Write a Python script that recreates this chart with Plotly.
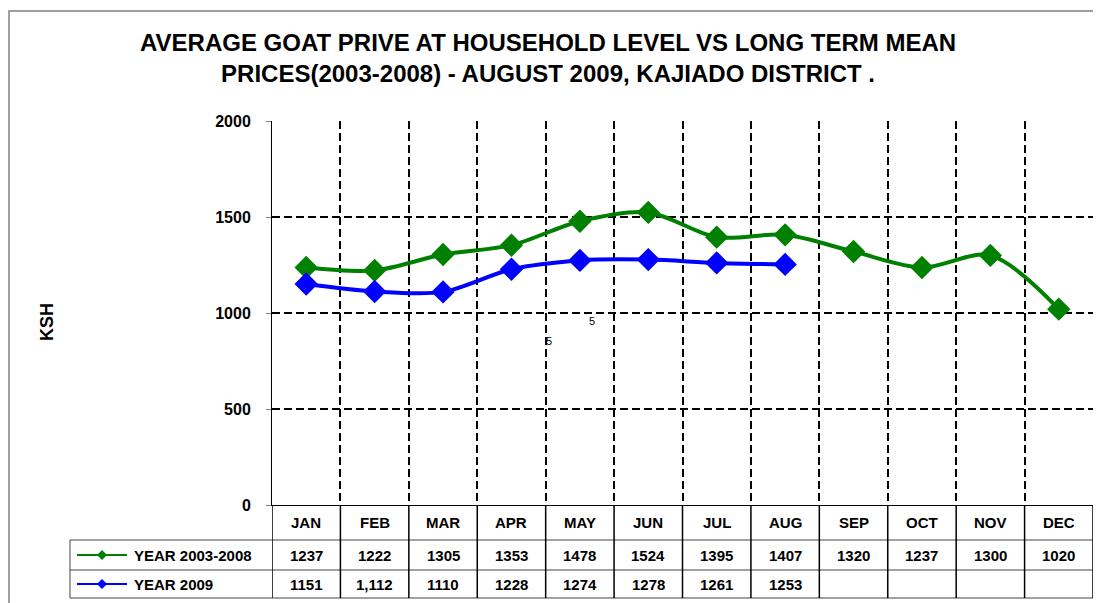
import plotly.graph_objects as go

months = ["JAN", "FEB", "MAR", "APR", "MAY", "JUN", "JUL", "AUG", "SEP", "OCT", "NOV", "DEC"]
long_term = [1237, 1222, 1305, 1353, 1478, 1524, 1395, 1407, 1320, 1237, 1300, 1020]
year_2009 = [1151, 1112, 1110, 1228, 1274, 1278, 1261, 1253]
long_term_text = ["1237", "1222", "1305", "1353", "1478", "1524", "1395", "1407", "1320", "1237", "1300", "1020"]
year_2009_text = ["1151", "1,112", "1110", "1228", "1274", "1278", "1261", "1253"]
series_names = ["YEAR 2003-2008", "YEAR 2009"]
series_colors = ["#008000", "#0000FF"]
title_lines = ["AVERAGE GOAT PRIVE AT HOUSEHOLD LEVEL VS LONG TERM MEAN",
               "PRICES(2003-2008) - AUGUST 2009, KAJIADO DISTRICT ."]

FONT = "Liberation Sans, Arial, sans-serif"
OFF = 8  # page body margin
W, H = 1101 - OFF, 603 - OFF
PL, PR, PT, PB = 272, 1093, 121, 505  # plot area in screenshot pixels
L, R, T, B = PL - OFF, (1101 - OFF) - (PR - OFF), PT - OFF, H - (PB - OFF)
PH = PB - PT
PW = PR - PL


def py(p):  # screenshot pixel y -> paper y
    return (PB - p) / PH


def px(p):  # screenshot pixel x -> paper x
    return (p - PL) / PW


xs = list(range(len(months)))

fig = go.Figure()
for name, vals, col in zip(series_names, [long_term, year_2009], series_colors):
    fig.add_trace(go.Scatter(
        x=xs[:len(vals)], y=vals, name=name, mode="lines+markers",
        line=dict(color=col, width=4, shape="spline", smoothing=0.9),
        marker=dict(symbol="diamond", size=18, color=col),
        showlegend=False, cliponaxis=False,
    ))

shapes = []
annotations = []

# outer border
shapes.append(dict(type="rect", xref="paper", yref="paper",
                   x0=px(9), x1=px(1120), y0=py(11), y1=py(625),
                   line=dict(color="#808080", width=1.5), layer="below"))

# data table
row_b = [505, 540, 570, 598]
for yb in row_b[1:]:
    shapes.append(dict(type="line", xref="paper", yref="paper",
                       x0=px(70), x1=1, y0=py(yb), y1=py(yb),
                       line=dict(color="#444444", width=1)))
for i in range(len(months) + 1):
    shapes.append(dict(type="line", xref="x", yref="paper",
                       x0=i - 0.5, x1=i - 0.5, y0=py(505), y1=py(598),
                       line=dict(color="#000000", width=1.5)))
shapes.append(dict(type="line", xref="paper", yref="paper",
                   x0=px(70), x1=px(70), y0=py(540), y1=py(598),
                   line=dict(color="#444444", width=1)))

row_c = [(row_b[k] + row_b[k + 1]) / 2 for k in range(3)]
for i, m in enumerate(months):
    annotations.append(dict(x=i, y=py(row_c[0]), xref="x", yref="paper",
                            text="<b>%s</b>" % m, showarrow=False,
                            font=dict(family=FONT, size=15, color="black"),
                            xanchor="center", yanchor="middle"))
for k, texts in enumerate([long_term_text, year_2009_text]):
    for i, t in enumerate(texts):
        annotations.append(dict(x=i, y=py(row_c[k + 1]), xref="x", yref="paper",
                                text="<b>%s</b>" % t, showarrow=False,
                                font=dict(family=FONT, size=15, color="black"),
                                xanchor="center", yanchor="middle"))
# legend keys
for k, (name, col) in enumerate(zip(series_names, series_colors)):
    yp = row_c[k + 1]
    yc = py(yp)
    shapes.append(dict(type="line", xref="paper", yref="paper",
                       x0=px(77), x1=px(127), y0=yc, y1=yc,
                       line=dict(color=col, width=2)))
    d = 5
    shapes.append(dict(type="path", xref="paper", yref="paper",
                       path="M %f %f L %f %f L %f %f L %f %f Z" % (
                           px(102 - d), yc, px(102), py(yp - d),
                           px(102 + d), yc, px(102), py(yp + d)),
                       fillcolor=col, line=dict(color=col, width=0)))
    annotations.append(dict(x=px(132), y=yc, xref="paper", yref="paper",
                            text="<b>%s</b>" % name, showarrow=False,
                            font=dict(family=FONT, size=15, color="black"),
                            xanchor="left", yanchor="middle"))

# title
annotations.append(dict(x=px(548), y=py(58), xref="paper", yref="paper",
                        text="<b>" + "<br>".join(title_lines) + "</b>", showarrow=False,
                        font=dict(family=FONT, size=24, color="black"),
                        xanchor="center", yanchor="middle", align="center"))
# y-axis title
annotations.append(dict(x=px(47), y=py(322), xref="paper", yref="paper",
                        text="<b>KSH</b>", showarrow=False, textangle=-90,
                        font=dict(family=FONT, size=18, color="black"),
                        xanchor="center", yanchor="middle"))
# stray labels
for (sx, sy) in [(549, 341), (592, 321)]:
    annotations.append(dict(x=px(sx), y=py(sy), xref="paper", yref="paper",
                            text="5", showarrow=False,
                            font=dict(family=FONT, size=11, color="black"),
                            xanchor="center", yanchor="middle"))

fig.update_layout(
    width=W, height=H,
    margin=dict(l=L, r=R, t=T, b=B, pad=0),
    paper_bgcolor="white", plot_bgcolor="white",
    font=dict(family=FONT, color="black"),
    shapes=shapes, annotations=annotations,
    xaxis=dict(range=[-0.5, len(months) - 0.5], tickmode="array",
               tickvals=[i + 0.5 for i in range(len(months))],
               ticktext=["" for _ in months],
               showgrid=True, gridcolor="black", gridwidth=2, griddash="8px,4px",
               showline=True, linecolor="black", linewidth=1,
               ticks="", zeroline=False, fixedrange=True),
    yaxis=dict(range=[0, 2000], tickmode="linear", tick0=0, dtick=500,
               showgrid=True, gridcolor="black", gridwidth=2, griddash="8px,4px",
               showline=True, linecolor="black", linewidth=1,
               ticks="outside", ticklen=5, tickcolor="#808080",
               tickfont=dict(family=FONT, size=16, color="black"),
               tickprefix="<b>", ticksuffix="</b>", ticklabelstandoff=12,
               zeroline=False),
)

fig.write_html("out.html")
